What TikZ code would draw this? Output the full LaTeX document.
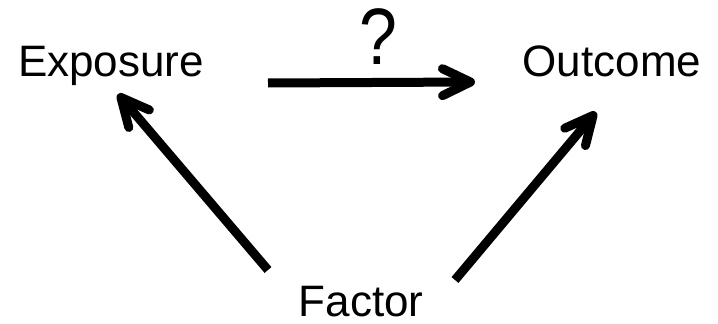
\documentclass[tikz,border=0pt]{standalone}
\usepackage{fontspec}
\setmainfont{Liberation Sans}
\usetikzlibrary{arrows.meta}
\begin{document}
\begin{tikzpicture}[x=1pt,y=-1pt,
  lbl/.style={inner sep=0pt, anchor=base, font=\fontsize{44}{50}\selectfont},
  arr/.style={line width=9pt, line cap=butt,
    -{Straight Barb[length=28pt, width=27pt, round]}}]
\useasboundingbox[fill=white] (0,0) rectangle (718,324);
\node[lbl] (exposure) at (111,76) {Exposure};
\node[lbl] (outcome) at (612,76) {Outcome};
\node[lbl] (factor) at (361,316) {Factor};
\node[inner sep=0pt, anchor=base, font=\fontsize{80}{86}\selectfont, xscale=0.85] (q) at (378,64) {?};
\draw[arr] ([shift={(157,7)}]exposure.base) -- ([shift={(-137,6)}]outcome.base);
\draw[arr] ([shift={(-93,-46)}]factor.base) -- ([shift={(7,18)}]exposure.base);
\draw[arr] ([shift={(94,-36)}]factor.base) -- ([shift={(-16,36)}]outcome.base);
\end{tikzpicture}
\end{document}
